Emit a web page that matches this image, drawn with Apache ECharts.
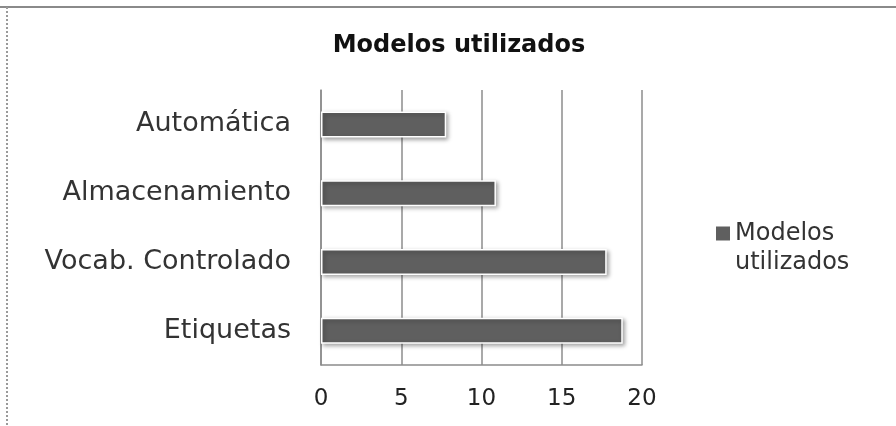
<!DOCTYPE html>
<html>
<head>
<meta charset="utf-8">
<script src="https://cdn.jsdelivr.net/npm/echarts@6/dist/echarts.min.js"></script>
<style>
	html, body { margin: 0; padding: 0; background: #ffffff; }
	#chart { width: 896px; height: 426px; }
</style>
</head>
<body>
<div id="chart"></div>
<script>
//Chart data
let categories = ["Etiquetas", "Vocab. Controlado", "Almacenamiento", "Automática"];
let series_name = "Modelos utilizados";
let series_values = [18.8, 17.8, 10.9, 7.8];
let x_ticks = [0, 5, 10, 15, 20];

let font_family = "DejaVu Sans";
let grid_colour = "#8c8c8c";

let chart = echarts.init(document.getElementById("chart"), null, { renderer: "canvas" });

chart.setOption({
	animation: false,
	backgroundColor: "#ffffff",
	title: {
		text: "Modelos utilizados",
		left: 454,
		top: 29,
		textAlign: "center",
		textStyle: {
			color: "#111111",
			fontFamily: font_family,
			fontWeight: "bold",
			fontSize: 24
		}
	},
	legend: {
		left: 716,
		top: 190,
		padding: 0,
		orient: "vertical",
		icon: "rect",
		itemWidth: 14,
		itemHeight: 14,
		itemGap: 6,
		itemStyle: {
			borderWidth: 0,
			shadowBlur: 0,
			shadowOffsetX: 0,
			shadowOffsetY: 0
		},
		data: [series_name],
		//Empty first line keeps the icon beside "Modelos"
		formatter: () => " \nModelos\nutilizados",
		textStyle: {
			color: "#333333",
			fontFamily: font_family,
			fontSize: 24,
			lineHeight: 29
		}
	},
	grid: {
		left: 321,
		right: 254,
		top: 90,
		bottom: 61,
		containLabel: false
	},
	xAxis: {
		type: "value",
		min: x_ticks[0],
		max: x_ticks[x_ticks.length - 1],
		interval: 5,
		axisLine: { show: true, lineStyle: { color: grid_colour, width: 1.5 } },
		axisTick: { show: false },
		axisLabel: {
			color: "#222222",
			fontFamily: font_family,
			fontSize: 23,
			margin: 23
		},
		splitLine: { show: true, lineStyle: { color: grid_colour, width: 1.5 } }
	},
	yAxis: {
		type: "category",
		data: categories,
		axisLine: { show: true, lineStyle: { color: grid_colour, width: 1.5 } },
		axisTick: { show: false },
		axisLabel: {
			color: "#333333",
			fontFamily: font_family,
			fontSize: 27,
			margin: 30
		}
	},
	series: [{
		name: series_name,
		type: "bar",
		data: series_values,
		barWidth: 26,
		itemStyle: {
			color: "#5f5f5f",
			borderColor: "#ffffff",
			borderWidth: 1.5,
			shadowColor: "rgba(0, 0, 0, 0.35)",
			shadowBlur: 4,
			shadowOffsetX: 2,
			shadowOffsetY: 2
		}
	}],
	graphic: [
		{
			type: "line",
			shape: { x1: 0, y1: 7, x2: 896, y2: 7 },
			style: { stroke: "#8a8a8a", lineWidth: 2 }
		},
		{
			type: "line",
			shape: { x1: 7, y1: 7, x2: 7, y2: 426 },
			style: { stroke: "#9a9a9a", lineWidth: 2, lineDash: [2, 2] }
		}
	]
});
</script>
</body>
</html>
